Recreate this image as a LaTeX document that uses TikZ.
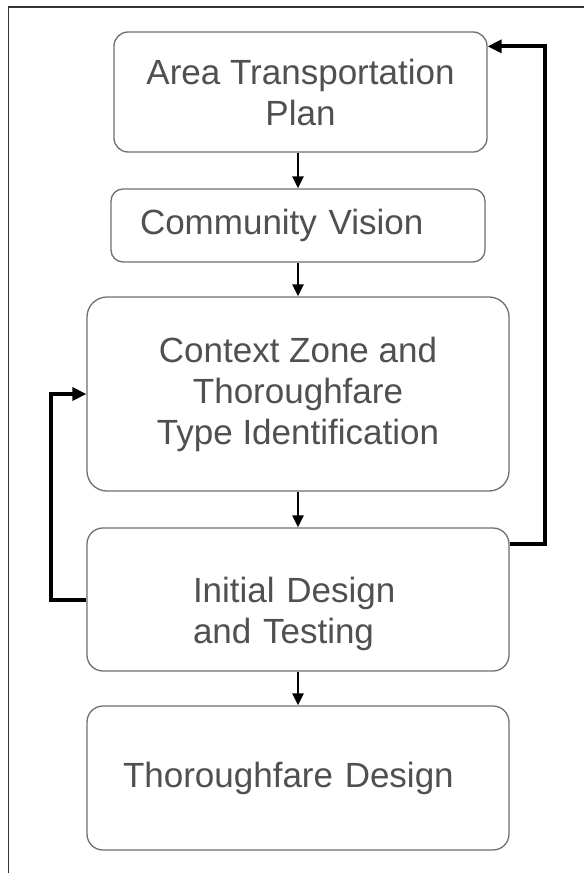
\documentclass[tikz,border=0pt]{standalone}
\usepackage{fontspec}
\setmainfont{Liberation Sans}
\usepackage{tikz}
\usetikzlibrary{arrows.meta}
\usepackage{xcolor}
\definecolor{boxgray}{HTML}{707070}
\definecolor{textgray}{HTML}{505050}

\begin{document}
\begin{tikzpicture}[x=1pt,y=-1pt,
		stage/.style={draw=boxgray, line width=1.3pt, text=textgray, font=\fontsize{35}{41}\selectfont, inner sep=0pt},
		flowarrow/.style={-{Triangle[length=12pt,width=11pt]}, line width=2.8pt},
		feedback/.style={-{Triangle[length=14pt,width=13pt]}, line width=4pt}]
		\useasboundingbox (0,0) rectangle (584,873);
		\fill[white] (0,0) rectangle (584,873);
		\draw[line width=1.5pt, black!80] (8.5,873) -- (8.5,7) -- (584,7);
		% process stages
		\node[stage, rounded corners=14pt, align=center, minimum width=373pt, minimum height=120pt] (atp) at (300.5,92) {Area Transportation\\Plan};
		\node[stage, rounded corners=12pt, align=left, text width=316pt, minimum width=374pt, minimum height=73pt] (cv) at (298,225.5) {Community Vision};
		\node[stage, rounded corners=20pt, align=center, minimum width=422pt, minimum height=194pt] (czt) at (298,394) {Context Zone and\\Thoroughfare\\Type Identification};
		\node[stage, rounded corners=16pt, align=left, text width=210pt, text depth=20pt, minimum width=422pt, minimum height=143pt] (idt) at (298,599.5) {Initial Design\\and Testing};
		\node[stage, rounded corners=16pt, align=left, text width=350pt, minimum width=422pt, minimum height=144pt] (td) at (298,778) {Thoroughfare Design};
		% main flow
		\draw[flowarrow] (cv.north |- atp.south) -- (cv.north);
		\draw[flowarrow] (cv.south) -- (czt.north);
		\draw[flowarrow] (czt.south) -- (idt.north);
		\draw[flowarrow] (idt.south) -- (td.north);
		% feedback loops
		\draw[feedback] (idt.west) -- ++(-35,0) |- (czt.west);
		\draw[feedback] ([yshift=-17pt]idt.north east) -- ++(35,0) |- ([yshift=-15pt]atp.north east);
\end{tikzpicture}
\end{document}
